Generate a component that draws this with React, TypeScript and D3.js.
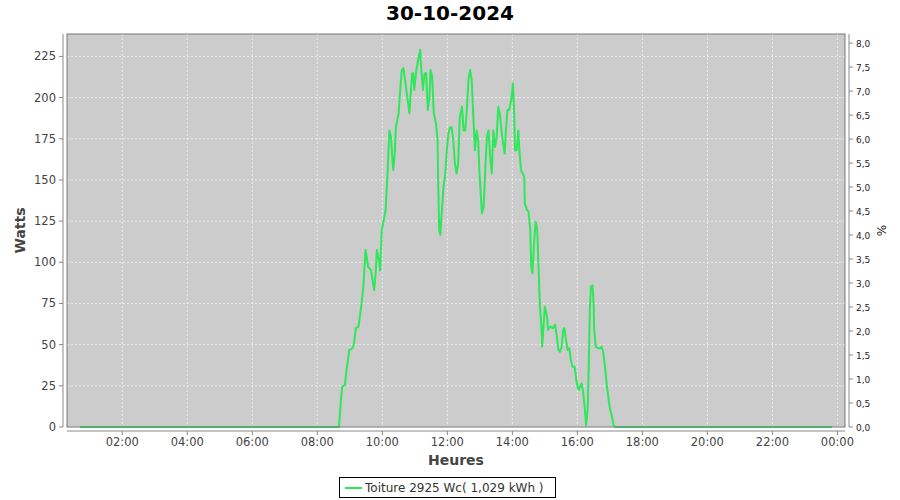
import React from "react";
import * as d3 from "d3";

// Minutes since midnight (30-10-2024) and power in Watts
const minutes: number[] = [
  42, 520, 524, 526, 531, 534, 539, 545, 548, 551, 556, 561, 565, 569, 574, 579, 583, 585, 588, 590,
  594, 596, 599, 604, 606, 610, 613, 616, 620, 623, 625, 630, 633, 636, 639, 642, 646, 650, 652, 655,
  657, 659, 662, 666, 670, 671, 675, 678, 681, 684, 687, 689, 692, 695, 699, 702, 703, 705, 707, 710,
  713, 716, 719, 722, 725, 728, 731, 734, 737, 740, 743, 747, 750, 753, 756, 759, 762, 765, 768, 771,
  774, 777, 779, 782, 784, 787, 790, 793, 796, 799, 802, 805, 808, 811, 814, 817, 820, 823, 826, 828,
  831, 834, 838, 841, 843, 845, 848, 851, 853, 856, 859, 862, 863, 867, 870, 873, 875, 877, 880, 883,
  886, 888, 891, 894, 895, 898, 900, 904, 906, 910, 915, 919, 922, 925, 928, 931, 934, 936, 939, 942,
  945, 948, 951, 955, 958, 961, 963, 966, 968, 971, 974, 976, 979, 981, 983, 985, 988, 990, 991, 994,
  998, 1002, 1005, 1008, 1011, 1014, 1017, 1020, 1024, 1027, 1030, 1430,
];
const watts: number[] = [
  0, 0, 18, 24.5, 25.5, 34.6, 46.7, 47.8, 51, 60, 61, 73, 85, 107.5, 97, 95.3, 87, 83, 95, 107.5,
  101, 95, 119.6, 127.7, 131.7, 156, 180, 176, 156, 166, 182, 190, 204.6, 216.7, 217.8, 210.7, 200.5, 190.5, 200.5, 214.7,
  214.7, 204.6, 214.7, 222.8, 229, 220.8, 204.6, 214.7, 214.7, 192.5, 200.5, 216.7, 212.7, 190.5, 184.4, 174, 150, 119.6, 116.6, 131.8,
  146, 153, 168, 178, 182, 182, 174, 160, 154, 160, 188, 194.5, 180, 180, 192.5, 210.7, 216.7, 210.7, 188, 168,
  180, 174, 156, 140, 129.7, 133.8, 156, 176, 180, 164, 154, 180, 170, 176, 194.5, 190, 180, 172, 166, 180,
  192.5, 192.5, 198.5, 208.7, 194.5, 168, 168, 180, 168, 156, 154, 152, 135.8, 131.8, 130.7, 119.6, 97.3, 93.3, 111.5, 124.7,
  119.6, 99.4, 73, 59, 48.8, 63, 73, 67, 59, 61, 60, 62, 55, 46.8, 45.7, 48.7, 59, 60, 52.8, 46.8,
  47.8, 40.7, 36.6, 36.6, 28.5, 23.5, 22.5, 25.5, 26.5, 20.5, 10.3, 1, 10.3, 36.6, 71, 85, 86, 75, 59, 48.8,
  47.8, 47.8, 48.8, 44.7, 36.6, 26.5, 18.4, 11.3, 6.3, 1, 0, 0,
];

const leftTicks: number[] = [0, 25, 50, 75, 100, 125, 150, 175, 200, 225];
const rightTicks: number[] = [0, 0.5, 1, 1.5, 2, 2.5, 3, 3.5, 4, 4.5, 5, 5.5, 6, 6.5, 7, 7.5, 8];
const hourTicks: number[] = [2, 4, 6, 8, 10, 12, 14, 16, 18, 20, 22, 24];

const title = "30-10-2024";
const seriesName = "Toiture 2925 Wc( 1,029 kWh )";
const yLabel = "Watts";
const y2Label = "%";
const xLabel = "Heures";

const FONT = "'DejaVu Sans', sans-serif";
const GREEN = "#2ee85a";
const TEXT = "#444444";

export default function App() {
  const W = 900, H = 500;
  const left = 67, right = 845, top = 34, bottom = 427;
  const day = new Date(2024, 9, 30, 0, 0, 0);
  const t = (m: number) => new Date(day.getTime() + m * 60000);

  const x = d3.scaleTime().domain([t(18), t(1454)]).range([left, right]);
  const y = d3.scaleLinear().domain([0, 238.6]).range([bottom, top]);
  const y2 = d3.scaleLinear().domain([0, 8.19]).range([bottom, top]);

  const pts = minutes.map((m, i) => [m, watts[i]] as [number, number]);
  const line = d3
    .line<[number, number]>()
    .x((d) => x(t(d[0])))
    .y((d) => y(d[1]));

  const fmt = d3.timeFormat("%H:%M");
  const fmt2 = (v: number) => v.toFixed(1).replace(".", ",");

  return (
    <svg
      width={W}
      height={H}
      style={{ position: "absolute", left: 0, top: 0, background: "#fff" }}
      fontFamily={FONT}
    >
      <rect x={0} y={0} width={W} height={H} fill="#fff" />
      <text x={450} y={20} textAnchor="middle" fontWeight="bold" fontSize={20} fill="#000">
        {title}
      </text>

      {/* plot background */}
      <rect x={left} y={top} width={right - left} height={bottom - top} fill="#cccccc" />

      {/* gridlines */}
      {leftTicks.map((v) => (
        <line key={"gy" + v} x1={left} x2={right} y1={y(v)} y2={y(v)} stroke="#f4f4f4" strokeWidth={0.8} strokeDasharray="2,2" />
      ))}
      {hourTicks.map((h) => (
        <line key={"gx" + h} x1={x(t(h * 60))} x2={x(t(h * 60))} y1={top} y2={bottom} stroke="#f4f4f4" strokeWidth={0.8} strokeDasharray="2,2" />
      ))}

      {/* series */}
      <path d={line(pts) || ""} fill="none" stroke={GREEN} strokeWidth={2} strokeLinejoin="round" />

      {/* plot outline */}
      <rect x={left} y={top} width={right - left} height={bottom - top} fill="none" stroke="#777" strokeWidth={1} />

      {/* left axis */}
      <line x1={63} x2={63} y1={top} y2={bottom} stroke="#888" />
      {leftTicks.map((v) => (
        <g key={"ly" + v}>
          <line x1={59} x2={63} y1={y(v)} y2={y(v)} stroke="#888" />
          <text x={56} y={y(v) + 4} textAnchor="end" fontSize={11.5} fill={TEXT}>
            {v}
          </text>
        </g>
      ))}
      <text transform={`translate(25,${(top + bottom) / 2}) rotate(-90)`} textAnchor="middle" fontWeight="bold" fontSize={14} fill={TEXT}>
        {yLabel}
      </text>

      {/* right axis */}
      <line x1={849} x2={849} y1={top} y2={bottom} stroke="#888" />
      {rightTicks.map((v) => (
        <g key={"ry" + v}>
          <line x1={849} x2={853} y1={y2(v)} y2={y2(v)} stroke="#888" />
          <text x={856} y={y2(v) + 3.5} textAnchor="start" fontSize={9} fill="#222">
            {fmt2(v)}
          </text>
        </g>
      ))}
      <text transform={`translate(886,${(top + bottom) / 2}) rotate(-90)`} textAnchor="middle" fontSize={12} fill="#222">
        {y2Label}
      </text>

      {/* bottom axis */}
      <line x1={left} x2={right} y1={431} y2={431} stroke="#888" />
      {hourTicks.map((h) => (
        <g key={"bx" + h}>
          <line x1={x(t(h * 60))} x2={x(t(h * 60))} y1={431} y2={435} stroke="#888" />
          <text x={x(t(h * 60))} y={446} textAnchor="middle" fontSize={11.5} fill={TEXT}>
            {fmt(t(h * 60))}
          </text>
        </g>
      ))}
      <text x={456} y={465} textAnchor="middle" fontWeight="bold" fontSize={14} fill={TEXT}>
        {xLabel}
      </text>

      {/* legend */}
      <rect x={339.5} y={477.5} width={216} height={20} fill="#fff" stroke="#000" strokeWidth={1} />
      <line x1={345} x2={362} y1={488} y2={488} stroke={GREEN} strokeWidth={2} />
      <text x={365} y={492} fontSize={12} fill="#333">
        {seriesName}
      </text>
    </svg>
  );
}
